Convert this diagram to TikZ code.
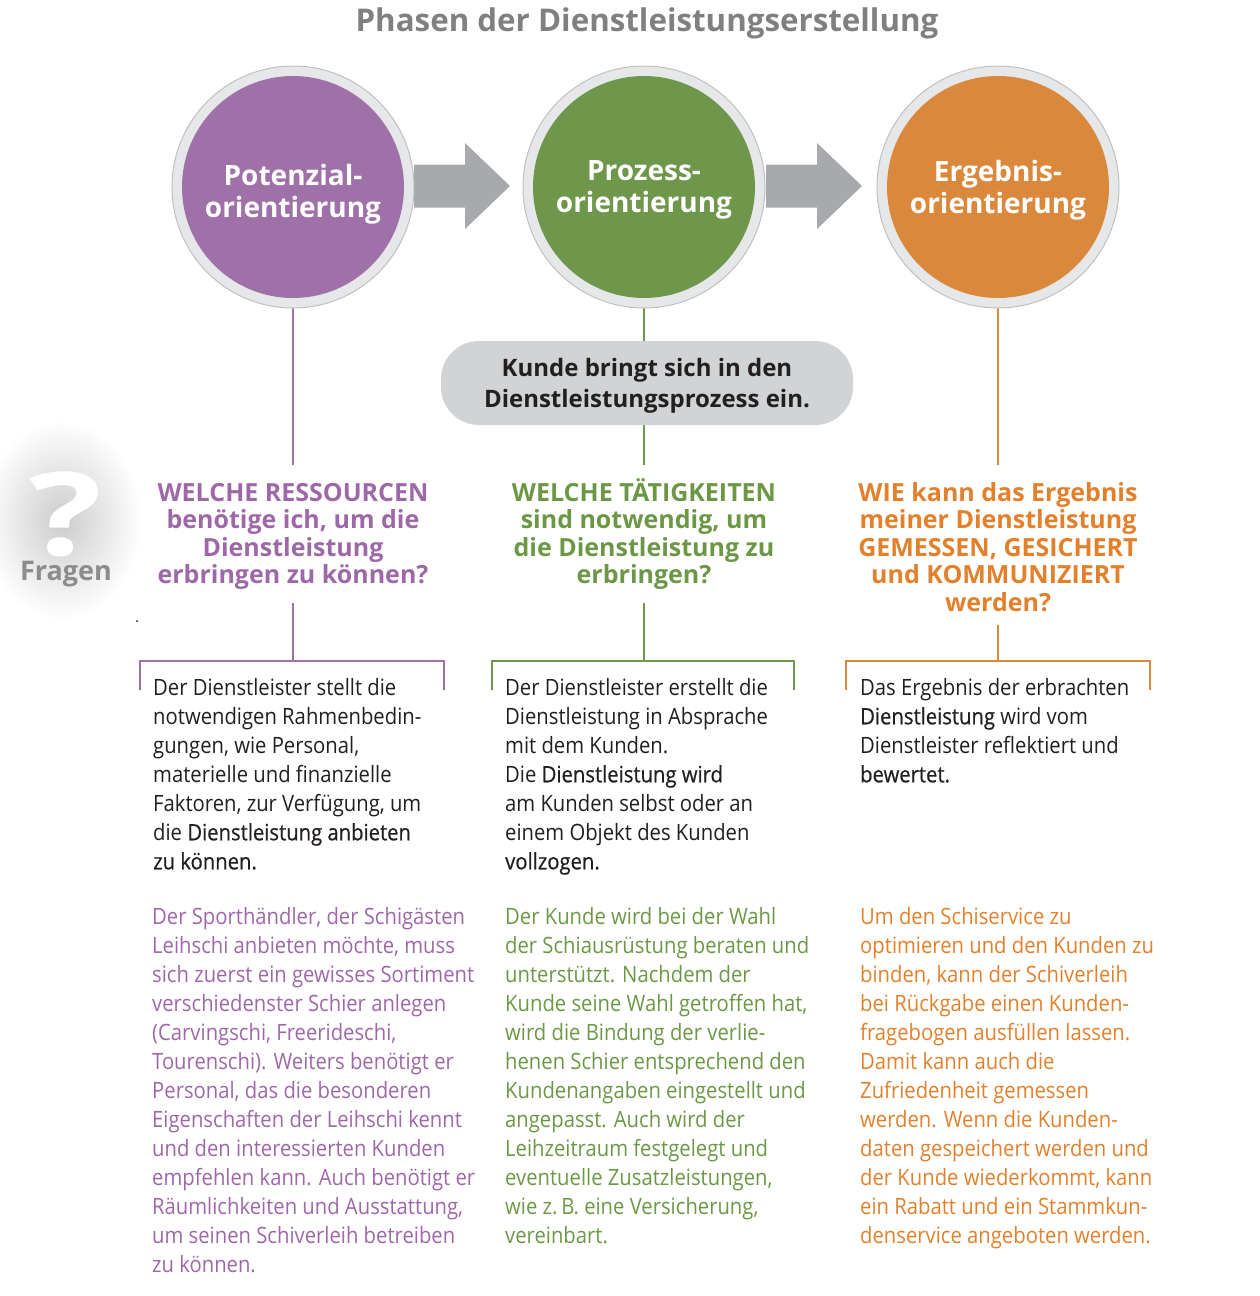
\documentclass[tikz,border=0pt]{standalone}
\usepackage{fontspec}
\setmainfont{Open Sans}
\newfontfamily\bodyfont{Open Sans}[FakeStretch=0.90]
\newfontfamily\bodysemi{Open Sans}[FakeStretch=0.90, FakeBold=0.6]
\newcommand{\semi}[1]{{\bodysemi #1}}
\usetikzlibrary{backgrounds}

\definecolor{purp}{RGB}{160,112,168}
\definecolor{grn}{RGB}{110,151,75}
\definecolor{orng}{RGB}{218,136,60}
\definecolor{purptext}{RGB}{158,104,168}
\definecolor{grntext}{RGB}{108,152,70}
\definecolor{orngtext}{RGB}{226,128,44}
\definecolor{ringfill}{RGB}{230,231,232}
\definecolor{ringline}{RGB}{190,192,194}
\definecolor{arrowgray}{RGB}{167,169,172}
\definecolor{boxgray}{RGB}{209,211,212}
\definecolor{titlegray}{RGB}{128,128,128}
\definecolor{ink}{RGB}{35,31,32}

\tikzset{
  ringstyle/.style={circle, fill=ringfill, draw=ringline, line width=1pt, minimum size=242pt, inner sep=0pt},
  phase/.style={circle, minimum size=222pt, inner sep=0pt},
  phasetext/.style={text=white, align=center, inner sep=0pt,
    font=\bfseries\fontsize{28}{32}\selectfont},
  boxtext/.style={text=ink, align=center, inner sep=0pt,
    font=\bfseries\fontsize{24}{31}\selectfont},
  question/.style={font=\bfseries\fontsize{25}{27.5}\selectfont, align=center,
    inner xsep=0pt, inner ysep=13pt, anchor=north},
  bodytext/.style={font=\bodyfont\fontsize{22.5}{29}\selectfont, align=left,
    inner sep=0pt, anchor=north west},
  conn/.style={line width=2pt},
  bigarrow/.style={fill=arrowgray},
  qglyph/.style={inner sep=0pt, anchor=base, font=\bfseries\fontsize{130}{130}\selectfont},
}
% strut of the same height for the first line of every question
\newcommand{\qstrut}{\rule{0pt}{23pt}}

\begin{document}
\begin{tikzpicture}[x=1pt,y=-1pt]
\useasboundingbox (0,0) rectangle (1260,1296);

% title
\node[text=titlegray, font=\bfseries\fontsize{31.3}{34}\selectfont] (title) at (647,23) {Phasen der Dienstleistungserstellung};

% question mark with a soft glow behind it
\shade[inner color=black!20, outer color=white] (62,520) ellipse (80 and 100);
\node[qglyph, text=white] (qmark) at (66,555) {\scalebox{1.17}[0.89]{?}};
\node[text=black!45, inner sep=0pt, font=\bfseries\fontsize{27}{30}\selectfont] (fragen) at (66,574) {Fragen};
\fill[ink] (137,621) circle (1);

% connecting arrows between the phases
\coordinate (a1) at (414,186);
\coordinate (a2) at (766,186);
\fill[bigarrow] (a1) ++(0,-21.5) -- ++(51,0) -- ++(0,-21.5) -- ++(45,43) -- ++(-45,43) -- ++(0,-21.5) -- ++(-51,0) -- cycle;
\fill[bigarrow] (a2) ++(0,-21.5) -- ++(51,0) -- ++(0,-21.5) -- ++(45,43) -- ++(-45,43) -- ++(0,-21.5) -- ++(-51,0) -- cycle;

% phase circles
\node[ringstyle] (ring1) at (293,187) {};
\node[ringstyle] (ring2) at (644,187) {};
\node[ringstyle] (ring3) at (998,187) {};
\node[phase, fill=purp, label={[phasetext, yshift=-7pt]center:{Potenzial-\\orientierung}}] (potenzial) at (293,187) {};
\node[phase, fill=grn, label={[phasetext, yshift=-3pt]center:{Prozess-\\orientierung}}] (prozess) at (644,187) {};
\node[phase, fill=orng, label={[phasetext, yshift=-3pt]center:{Ergebnis-\\orientierung}}] (ergebnis) at (998,187) {};

% customer box
\node[fill=boxgray, rounded corners=38pt, minimum width=412pt, minimum height=84pt,
  label={[boxtext, yshift=-3pt]center:{Kunde bringt sich in den\\Dienstleistungsprozess ein.}}] (kunde) at (647,383) {};

% guiding questions
\node[question, text=purptext] (q1) at (293,465)
  {\qstrut WELCHE RESSOURCEN\\benötige ich, um die\\Dienstleistung\\erbringen zu können?};
\node[question, text=grntext] (q2) at (644,465)
  {\qstrut WELCHE TÄTIGKEITEN\\sind notwendig, um\\die Dienstleistung zu\\erbringen?};
\node[question, text=orngtext] (q3) at (998,465)
  {\qstrut WIE kann das Ergebnis\\meiner Dienstleistung\\GEMESSEN, GESICHERT\\und KOMMUNIZIERT\\werden?};

% bracket corners
\coordinate (b1) at (293,661);
\coordinate (b1l) at (140,690);
\coordinate (b1r) at (444,690);
\coordinate (b2) at (644,661);
\coordinate (b2l) at (492,690);
\coordinate (b2r) at (794,690);
\coordinate (b3) at (998,661);
\coordinate (b3l) at (846,690);
\coordinate (b3r) at (1150,690);

\begin{scope}[on background layer]
  \draw[conn, purp] (potenzial) -- (q1);
  \draw[conn, grn] (prozess) -- (prozess |- kunde.north);
  \draw[conn, grn] (prozess |- kunde.south) -- (q2);
  \draw[conn, orng] (ergebnis) -- (q3);
\end{scope}
\draw[conn, purp] (q1) -- (b1);
\draw[conn, grn] (q2) -- (b2);
\draw[conn, orng] (q3) -- (b3);
\draw[conn, purp] (b1l) -- (b1l |- b1) -- (b1r |- b1) -- (b1r);
\draw[conn, grn] (b2l) -- (b2l |- b2) -- (b2r |- b2) -- (b2r);
\draw[conn, orng] (b3l) -- (b3l |- b3) -- (b3r |- b3) -- (b3r);

% descriptions
\node[bodytext, text=ink] (d1) at (153,678)
  {Der Dienstleister stellt die\\notwendigen Rahmenbedin-\\gungen, wie Personal,\\materielle und finanzielle\\Faktoren, zur Verfügung, um\\die \semi{Dienstleistung anbieten}\\\semi{zu können.}};
\node[bodytext, text=ink] (d2) at (505,678)
  {Der Dienstleister erstellt die\\Dienstleistung in Absprache\\mit dem Kunden.\\Die \semi{Dienstleistung wird}\\am Kunden selbst oder an\\einem Objekt des Kunden\\\semi{vollzogen.}};
\node[bodytext, text=ink] (d3) at (860,678)
  {Das Ergebnis der erbrachten\\\semi{Dienstleistung} wird vom\\Dienstleister reflektiert und\\\semi{bewertet.}};

% examples
\node[bodytext, text=purptext] (e1) at (152,907)
  {Der Sporthändler, der Schigästen\\Leihschi anbieten möchte, muss\\sich zuerst ein gewisses Sortiment\\verschiedenster Schier anlegen\\(Carvingschi, Freerideschi,\\Tourenschi). Weiters benötigt er\\Personal, das die besonderen\\Eigenschaften der Leihschi kennt\\und den interessierten Kunden\\empfehlen kann. Auch benötigt er\\Räumlichkeiten und Ausstattung,\\um seinen Schiverleih betreiben\\zu können.};
\node[bodytext, text=grntext] (e2) at (505,907)
  {Der Kunde wird bei der Wahl\\der Schiausrüstung beraten und\\unterstützt. Nachdem der\\Kunde seine Wahl getroffen hat,\\wird die Bindung der verlie-\\henen Schier entsprechend den\\Kundenangaben eingestellt und\\angepasst. Auch wird der\\Leihzeitraum festgelegt und\\eventuelle Zusatzleistungen,\\wie z.\,B. eine Versicherung,\\vereinbart.};
\node[bodytext, text=orngtext] (e3) at (860,907)
  {Um den Schiservice zu\\optimieren und den Kunden zu\\binden, kann der Schiverleih\\bei Rückgabe einen Kunden-\\fragebogen ausfüllen lassen.\\Damit kann auch die\\Zufriedenheit gemessen\\werden. Wenn die Kunden-\\daten gespeichert werden und\\der Kunde wiederkommt, kann\\ein Rabatt und ein Stammkun-\\denservice angeboten werden.};
\end{tikzpicture}
\end{document}
